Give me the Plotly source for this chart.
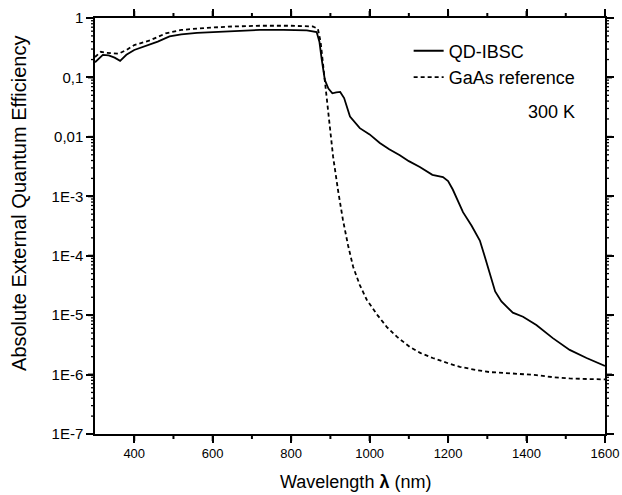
import math
import plotly.graph_objects as go

# QD-IBSC data
qd_wl = [300, 310, 320, 335, 350, 364, 380, 400, 430, 460, 490, 520, 560, 600, 660, 720, 780, 840,
         865, 872, 878, 886, 895, 905, 915, 925, 935, 950, 975, 1000, 1026, 1050, 1077, 1100, 1128,
         1160, 1187, 1200, 1212, 1238, 1260, 1281, 1295, 1306, 1320, 1336, 1365, 1391, 1425, 1467,
         1510, 1553, 1600]
qd_eqe = [0.18, 0.21, 0.24, 0.235, 0.215, 0.19, 0.24, 0.29, 0.34, 0.40, 0.49, 0.53, 0.56, 0.58, 0.61,
          0.63, 0.63, 0.62, 0.58, 0.40, 0.20, 0.09, 0.065, 0.054, 0.056, 0.057, 0.045, 0.022, 0.014,
          0.011, 0.0079, 0.0062, 0.0049, 0.0039, 0.0031, 0.0023, 0.0021, 0.0018, 0.0013, 5.4e-4,
          3.2e-4, 1.8e-4, 9e-5, 5e-5, 2.5e-5, 1.7e-5, 1.1e-5, 9.4e-6, 6.8e-6, 4.1e-6, 2.6e-6,
          1.9e-6, 1.4e-6]

# GaAs reference data
gaas_wl = [300, 315, 330, 360, 380, 400, 440, 480, 520, 580, 650, 720, 800, 855, 868, 875, 880, 886,
           894, 907, 920, 932, 945, 958, 975, 993, 1020, 1044, 1070, 1103, 1130, 1161, 1200, 1230,
           1270, 1306, 1340, 1380, 1425, 1470, 1510, 1560, 1600]
gaas_eqe = [0.22, 0.27, 0.26, 0.25, 0.29, 0.35, 0.42, 0.55, 0.63, 0.68, 0.72, 0.74, 0.74, 0.72, 0.66,
            0.40, 0.20, 0.09, 0.032, 0.0046, 1.2e-3, 4e-4, 1.5e-4, 6.5e-5, 3.2e-5, 1.8e-5, 1e-5,
            6.3e-6, 4.3e-6, 2.9e-6, 2.3e-6, 1.9e-6, 1.55e-6, 1.35e-6, 1.2e-6, 1.1e-6, 1.07e-6,
            1.03e-6, 0.98e-6, 0.9e-6, 0.86e-6, 0.84e-6, 0.83e-6]

# Tick labels
y_tickvals = [1, 0.1, 0.01, 1e-3, 1e-4, 1e-5, 1e-6, 1e-7]
y_ticktext = ["1", "0,1", "0,01", "1E-3", "1E-4", "1E-5", "1E-6", "1E-7"]
x_tickvals = [400, 600, 800, 1000, 1200, 1400, 1600]
x_minor_tickvals = [500, 700, 900, 1100, 1300, 1500]

x_range = [300, 1600]
y_range_exp = [-7, 0]

font_family = "Liberation Sans, Arial, sans-serif"
W, H = 622, 495
M = dict(l=95, r=17, t=18, b=61)
plot_w = W - M["l"] - M["r"]
plot_h = H - M["t"] - M["b"]

fig = go.Figure()
fig.add_trace(go.Scatter(x=qd_wl, y=qd_eqe, mode="lines", name="QD-IBSC",
                         line=dict(color="black", width=1.8)))
fig.add_trace(go.Scatter(x=gaas_wl, y=gaas_eqe, mode="lines", name="GaAs reference",
                         line=dict(color="black", width=1.8, dash="4px,3px")))

fig.update_xaxes(range=x_range, tickmode="array", tickvals=x_tickvals, ticks="outside",
                 ticklen=7, tickwidth=2, tickcolor="#000000", automargin=False,
                 ticklabeloverflow="allow",
                 showline=True, linecolor="black", linewidth=1.5, mirror="ticks", showgrid=False,
                 zeroline=False, tickfont=dict(size=13, color="black", family=font_family))
fig.update_yaxes(type="log", range=y_range_exp, tickmode="array", tickvals=y_tickvals,
                 ticktext=y_ticktext, ticks="outside", ticklen=7, tickwidth=2, tickcolor="#000000",
                 automargin=False, ticklabeloverflow="allow",
                 showline=True, linecolor="black", linewidth=1.5, mirror="ticks", showgrid=False,
                 zeroline=False, tickfont=dict(size=15, color="black", family=font_family))

# tick marks on all four sides (paper coordinates derived from the axis tick arrays)
def xp(v):
    return (v - x_range[0]) / (x_range[1] - x_range[0])

def yp(v):
    return (math.log10(v) - y_range_exp[0]) / (y_range_exp[1] - y_range_exp[0])

shapes = []
tick_line = dict(color="black", width=2)
minor_line = dict(color="black", width=1.3)
for vals, length, ln in [(x_tickvals, 7, tick_line), (x_minor_tickvals, 5, tick_line)]:
    d = length / plot_h
    for v in vals:
        p = xp(v)
        shapes.append(dict(type="line", xref="paper", yref="paper", x0=p, x1=p, y0=0, y1=-d, line=ln))
        shapes.append(dict(type="line", xref="paper", yref="paper", x0=p, x1=p, y0=1, y1=1 + d, line=ln))
y_minor_vals = [m * t for t in y_tickvals[1:] for m in range(2, 10)]
for vals, length, ln in [(y_tickvals, 7, tick_line), (y_minor_vals, 4, minor_line)]:
    d = length / plot_w
    for v in vals:
        p = yp(v)
        shapes.append(dict(type="line", xref="paper", yref="paper", x0=0, x1=-d, y0=p, y1=p, line=ln))
        shapes.append(dict(type="line", xref="paper", yref="paper", x0=1, x1=1 + d, y0=p, y1=p, line=ln))

fig.add_annotation(text="Absolute External Quantum Efficiency", textangle=-90,
                   xref="paper", yref="paper", x=-0.149, y=0.553, xanchor="center",
                   yanchor="middle", showarrow=False,
                   font=dict(size=20, color="black", family=font_family))
fig.add_annotation(text="Wavelength <b>λ</b> (nm)", xref="paper", yref="paper",
                   x=0.51, y=-0.115, xanchor="center", yanchor="middle", showarrow=False,
                   font=dict(size=18, color="black", family=font_family))
fig.add_annotation(text="300 K", xref="paper", yref="paper", x=0.945, y=0.774,
                   xanchor="right", yanchor="middle", showarrow=False,
                   font=dict(size=18, color="black", family=font_family))

fig.update_layout(
    width=W, height=H,
    margin=dict(**M, autoexpand=False),
    plot_bgcolor="white", paper_bgcolor="white",
    font=dict(family=font_family, color="black"),
    shapes=shapes,
    showlegend=True,
    legend=dict(x=0.615, y=0.965, xanchor="left", yanchor="top", bgcolor="rgba(0,0,0,0)",
                font=dict(size=18, color="black", family=font_family), tracegroupgap=0),
)

fig.write_html("out.html", config={"displayModeBar": False},
               post_script="document.body.style.margin='0';document.body.style.overflow='hidden';")
